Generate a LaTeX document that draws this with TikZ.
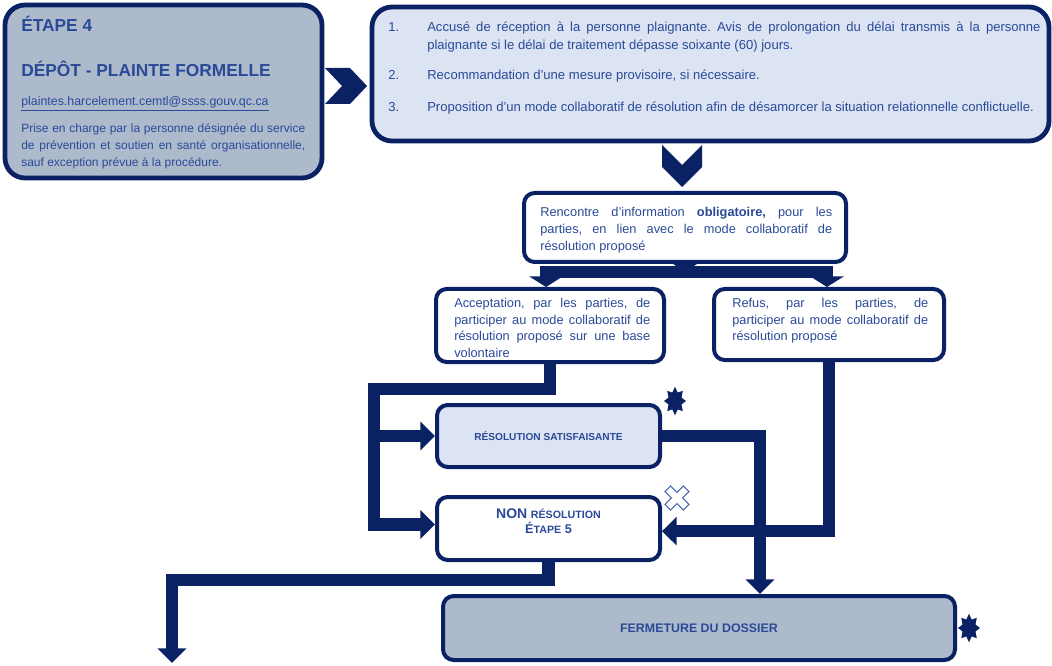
\documentclass[tikz,border=0pt]{standalone}
\usepackage{fontspec}
\setmainfont{Liberation Sans}
\usetikzlibrary{arrows.meta}
\definecolor{navy}{RGB}{10,34,100}
\definecolor{ink}{RGB}{42,74,152}
\definecolor{slate}{RGB}{173,186,204}
\definecolor{pale}{RGB}{220,228,243}
\definecolor{crossblue}{RGB}{72,106,176}
\newcommand{\fs}[2]{\fontsize{#1}{#2}\selectfont}
\frenchspacing

\begin{document}
\begin{tikzpicture}[x=0.75pt, y=-0.75pt,
    box/.style={draw=navy, line width=3pt, rounded corners=8pt, inner sep=0pt},
    bigbox/.style={box, line width=3.6pt, rounded corners=15pt},
    txt/.style={text=ink, inner sep=0pt, font=\fs{9.6}{12.6}},
    para/.style={txt, align=justify},
    flow/.style={draw=navy, line width=9.4pt, -{Triangle[width=21pt,length=11pt]}},
    splitflow/.style={flow, -{Triangle[width=25pt,length=8pt]}},
  ]
  \useasboundingbox (0,0) rectangle (1052,666);

  % Step 4 header box
  \node[bigbox, fill=slate, minimum width=237.75pt, minimum height=129.75pt] (step) at (163.5,91.5) {};
  \node[txt, anchor=base west, font=\bfseries\fs{13}{15}] (stepno) at (21,32) {ÉTAPE 4};
  \node[txt, anchor=base west, font=\bfseries\fs{13}{15}] (steptitle) at (21,77) {DÉPÔT - PLAINTE FORMELLE};
  \node[txt, anchor=base west, font=\fs{9.3}{12}] (mail) at (21,106) {\underline{plaintes.harcelement.cemtl@ssss.gouv.qc.ca}};
  \node[para, anchor=base west, text width=213pt, font=\fs{9}{12.5}] (intake) at (21,133) {Prise en charge par la personne désignée du service\linebreak de prévention et soutien en santé organisationnelle,\linebreak sauf exception prévue à la procédure.};

  % chevron to the actions
  \fill[navy] (325,68) -- (350,68) -- (367,86) -- (350,104) -- (325,104) -- (342,86) -- cycle;

  % Actions box
  \node[bigbox, fill=pale, minimum width=507.75pt, minimum height=100.5pt] (actions) at (710.5,74) {};
  \foreach \n/\y in {1/32, 2/80, 3/112}
    \node[txt, anchor=base west, font=\fs{9.8}{12.8}] (num\n) at (388,\y) {\n.};
  \node[para, anchor=base west, text width=460pt, font=\fs{9.8}{12.8}] (ack) at (427,32) {Accusé de réception à la personne plaignante. Avis de prolongation du délai transmis à la personne\linebreak plaignante si le délai de traitement dépasse soixante (60) jours.};
  \node[txt, anchor=base west, font=\fs{9.8}{12.8}] (interim) at (427,80) {Recommandation d’une mesure provisoire, si nécessaire.};
  \node[txt, anchor=base west, font=\fs{9.8}{12.8}] (propose) at (427,112) {Proposition d’un mode collaboratif de résolution afin de désamorcer la situation relationnelle conflictuelle.};

  % chevron down to the meeting
  \fill[navy] (662,145) -- (682,165) -- (702,145) -- (702,167) -- (682,187) -- (662,167) -- cycle;

  % Meeting box
  \node[box, fill=white, minimum width=241.5pt, minimum height=51.75pt] (meeting) at (685,227.5) {};
  \node[para, anchor=base west, text width=219pt] (meettxt) at (540,217) {Rencontre d’information \textbf{obligatoire,} pour les\linebreak parties, en lien avec le mode collaboratif de\linebreak résolution proposé};

  % Acceptance and refusal
  \node[box, fill=white, minimum width=171pt, minimum height=54.75pt] (accept) at (550,325.5) {};
  \node[para, anchor=base west, text width=147pt, font=\fs{9.6}{12.3}] (accepttxt) at (454,308) {Acceptation, par les parties, de\linebreak participer au mode collaboratif de\linebreak résolution proposé sur une base\linebreak volontaire};
  \node[box, fill=white, minimum width=172.5pt, minimum height=53.25pt] (refuse) at (829,324.5) {};
  \node[para, anchor=base west, text width=147pt, font=\fs{9.6}{12.3}] (refusetxt) at (732,308) {Refus, par les parties, de\linebreak participer au mode collaboratif de\linebreak résolution proposé};

  % Outcomes
  \node[box, fill=pale, minimum width=167.25pt, minimum height=46.5pt, text=ink, font=\bfseries\fs{7.6}{9}] (satis) at (548.5,436) {RÉSOLUTION SATISFAISANTE};
  \node[box, fill=white, minimum width=167.25pt, minimum height=47.25pt] (nores) at (548.5,528.5) {};
  \node[txt, align=center, font=\bfseries\fs{9.5}{11.3}] (norestxt) at (548.5,521) {{\fs{10.5}{11.3}NON} {\fs{8}{11.3}RÉSOLUTION}\\{\fs{9.5}{11.3}É}{\fs{8}{11.3}TAPE} 5};
  \node[box, fill=slate, minimum width=384pt, minimum height=48pt, text=ink, font=\bfseries\fs{9.3}{11}] (closing) at (699,628) {FERMETURE DU DOSSIER};

  % split below the meeting
  \coordinate (split) at (685,272);
  \draw[navy, line width=0.1pt, -{Triangle[width=22pt,length=7.5pt]}] (meeting.south) -- (split);
  \draw[splitflow] (split) -| ([xshift=-3pt]accept.north);
  \draw[splitflow] (split) -| ([xshift=-1.5pt]refuse.north);

  % acceptance into both outcomes
  \coordinate (railL) at (374,389);
  \draw[flow] (accept.south) |- (railL) |- ([yshift=3pt]nores.west);
  \draw[flow] (railL |- satis.west) -- (satis.west);

  % refusal and resolution
  \draw[flow] (refuse.south) |- ([yshift=-2pt]nores.east);
  \coordinate (dropF) at (760,0);
  \draw[flow] (satis.east) -| (dropF |- closing.north);

  % on to step 5
  \coordinate (railB) at (172,580);
  \coordinate (next) at (172,663);
  \draw[flow] (nores.south) |- (railB) -- (next);

  % marks
  \foreach \cx/\cy in {675/401, 969/628}
    \fill[navy, shift={(\cx,\cy)}, yscale=1.3] (90:11) \foreach \k in {0,...,7} {-- ({112.5+45*\k}:7) -- ({135+45*\k}:11)} -- cycle;
  \draw[crossblue, fill=white, line width=0.8pt, shift={(677,498)}, rotate=45] (-4,-13) -- (4,-13) -- (4,-4) -- (13,-4) -- (13,4) -- (4,4) -- (4,13) -- (-4,13) -- (-4,4) -- (-13,4) -- (-13,-4) -- (-4,-4) -- cycle;
\end{tikzpicture}
\end{document}
